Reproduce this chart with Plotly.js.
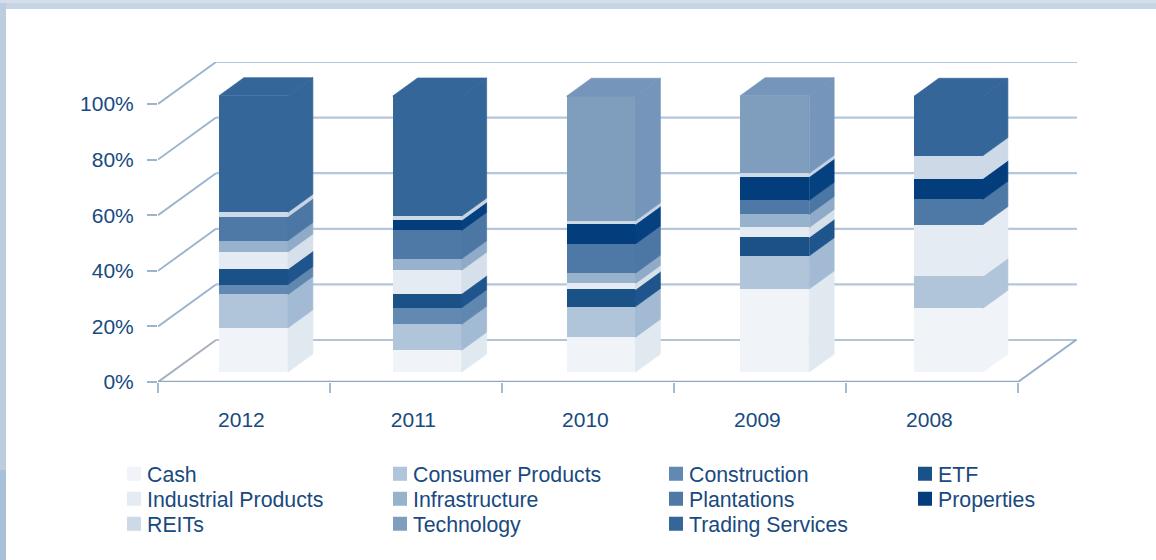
<!DOCTYPE html>
<html>
<head>
<meta charset="utf-8">
<script src="https://cdn.plot.ly/plotly-3.0.1.min.js"></script>
<style>html,body{margin:0;padding:0;background:#fff}#chart{width:1156px;height:560px}</style>
</head>
<body>
<div id="chart"></div>
<script>
// ---- data (percent of portfolio) ----
const years = ['2012', '2011', '2010', '2009', '2008'];
const percentTicks = [0, 20, 40, 60, 80, 100];
const percentLabels = ['0%', '20%', '40%', '60%', '80%', '100%'];
const sectors = ['Cash', 'Consumer Products', 'Construction', 'ETF', 'Industrial Products', 'Infrastructure',
                 'Plantations', 'Properties', 'REITs', 'Technology', 'Trading Services'];
const cash       = [16.0, 7.9, 12.6, 30.1, 23.1];
const consumer   = [12.1, 9.4, 11.1, 12.0, 11.6];
const construct  = [3.6, 6.0, 0, 0, 0];
const etf        = [5.6, 5.1, 6.2, 6.7, 0];
const industrial = [6.2, 8.5, 2.2, 3.6, 18.7];
const infra      = [4.1, 4.1, 3.7, 4.7, 0];
const plantation = [8.7, 10.3, 10.6, 5.1, 9.2];
const properties = [0, 3.7, 7.1, 8.5, 7.5];
const reits      = [1.6, 1.5, 1.3, 1.3, 8.3];
const technology = [0, 0, 45.1, 28.1, 0];
const trading    = [42.2, 43.5, 0, 0, 21.5];
const seriesValues = [cash, consumer, construct, etf, industrial, infra, plantation, properties, reits, technology, trading];

// ---- styles ----
const frontColors = ['#f0f4f8', '#b0c4da', '#6289b1', '#1a5288', '#e4ebf3', '#97b2cc', '#4e78a5', '#033d7c', '#cdd9e6', '#7f9ebe', '#356699'];
const sideColors  = ['#e0e8f0', '#a2bad4', '#5f87b0', '#1e558c', '#d6e0ea', '#8fabc9', '#4c77a5', '#05407f', '#c6d3e2', '#7596ba', '#356699'];
const textBlue = '#184a80';
const legendCols = [147, 413, 689, 938];
const legendRows = [474, 499, 524];
const legendSlots = [[0,0],[1,0],[2,0],[3,0],[0,1],[1,1],[2,1],[3,1],[0,2],[1,2],[2,2]];

// ---- oblique projection: a pseudo-3D box drawn on ordinary linear axes ----
const W = 1156, H = 560, L = 158, R = 1077, T = 62, B = 382;
const pxPerCat = 172, pxPerPct = 2.78;
const depthX = 58 / pxPerCat, depthY = 42 / pxPerPct;
const xMax = (R - L) / pxPerCat, yMax = (B - T) / pxPerPct;
const nCat = years.length;
const catCentre = k => 0.475 + 1.0102 * k;
const barW = 69 / pxPerCat, d0 = 10 / 42, d1 = 28 / 42, barScale = 276 / 278;
const px = (x, d) => x + d * depthX;
const py = (v, d) => v + d * depthY;

const traces = [];
const lineTrace = (xs, ys, color, width) => ({
  type: 'scatter', mode: 'lines', x: xs, y: ys, xaxis: 'x', yaxis: 'y', cliponaxis: false,
  line: { color, width }, showlegend: false, hoverinfo: 'skip'
});

// back wall gridlines and left wall diagonals
percentTicks.forEach(v => {
  const floor = v === 0;
  traces.push(lineTrace([px(0, 1), px(xMax - depthX, 1)], [py(v, 1), py(v, 1)], floor ? '#b3c4d8' : '#b4c7dc', 2.2));
  traces.push(lineTrace([px(0, 0), px(0, 1)], [py(v, 0), py(v, 1)], floor ? '#a4afbb' : '#9ab4d0', 1.9));
});
// floor front edge and right diagonal
traces.push(lineTrace([0, nCat], [0, 0], '#8ea8c6', 2.4));
traces.push(lineTrace([px(nCat, 0), px(nCat, 1)], [0, depthY], '#94aeca', 2));

// bars: front faces are real bars, side and top faces are polygons in the same data space
const baseline = d0 * depthY;
const cum = years.map(() => 0);
const sideTraces = [], barTraces = [];
seriesValues.forEach((vals, s) => {
  const bases = [], xs = [];
  const sx = [], sy = [], lx = [], ly = [], tx = [], ty = [];
  vals.forEach((v, k) => {
    const c = catCentre(k), r = c + barW / 2, l = c - barW / 2;
    const v0 = cum[k] * barScale, v1 = (cum[k] + v) * barScale;
    xs.push(px(c, d0));
    bases.push(v0 + baseline);
    if (v > 0) {
      const tx_ = k === nCat - 1 ? lx : sx, ty_ = k === nCat - 1 ? ly : sy;
      tx_.push(px(r, d0), px(r, d1), px(r, d1), px(r, d0), px(r, d0), null);
      ty_.push(py(v0, d0), py(v0, d1), py(v1, d1), py(v1, d0), py(v0, d0), null);
      // top face only on the uppermost segment of the column
      if (seriesValues.slice(s + 1).every(a => a[k] === 0)) {
        tx.push(px(l, d0), px(l, d1), px(r, d1), px(r, d0), px(l, d0), null);
        ty.push(py(v1, d0), py(v1, d1), py(v1, d1), py(v1, d0), py(v1, d0), null);
      }
    }
    cum[k] += v;
  });
  const poly = (x, y, color) => ({
    type: 'scatter', mode: 'lines', line: { color, width: 0.7 }, fill: 'toself', fillcolor: color, x, y, xaxis: 'x2', yaxis: 'y2',
    showlegend: false, hoverinfo: 'skip', cliponaxis: false
  });
  sideTraces.push(poly(sx, sy, sideColors[s]));
  if (lx.length) sideTraces.push(poly(lx, ly, frontColors[s]));
  if (tx.length) sideTraces.push(poly(tx, ty, sideColors[s]));
  barTraces.push({
    type: 'bar', name: sectors[s], x: xs, y: vals.map(v => v * barScale), base: bases, width: barW,
    xaxis: 'x2', yaxis: 'y2', marker: { color: frontColors[s], line: { width: 0 } },
    legend: s === 0 ? 'legend' : 'legend' + (s + 1), hoverinfo: 'name+y'
  });
});
traces.push(...barTraces, ...sideTraces);

const paperX = p => (p - L) / (R - L);
const paperY = p => (B - p) / (B - T);
const band = (x0, x1, y0, y1, fillcolor) => ({
  type: 'rect', xref: 'paper', yref: 'paper', layer: 'below', line: { width: 0 }, fillcolor,
  x0: paperX(x0), x1: paperX(x1), y0: paperY(y1), y1: paperY(y0)
});

const layout = {
  width: W, height: H, paper_bgcolor: '#ffffff', plot_bgcolor: 'rgba(0,0,0,0)',
  margin: { l: L, r: W - R, t: T, b: H - B, pad: 0 },
  barmode: 'overlay', bargap: 0,
  font: { family: 'Liberation Sans, Arial, sans-serif', color: textBlue },
  xaxis: {
    range: [0, xMax], showgrid: false, zeroline: false, showline: false, fixedrange: true,
    tickmode: 'array', tickvals: years.map((y, k) => k + 0.485), ticktext: years, tickangle: 0,
    ticks: '', ticklabelstandoff: 23, tickfont: { size: 21, color: textBlue },
    minor: { tickmode: 'array', tickvals: [0, 1, 2, 3, 4, 5], ticks: 'outside', ticklen: 10, tickwidth: 1.5, tickcolor: '#a5bad0', showgrid: false }
  },
  yaxis: {
    range: [0, yMax], showgrid: false, zeroline: false, showline: false, fixedrange: true,
    tickmode: 'array', tickvals: percentTicks, ticktext: percentLabels,
    ticks: 'outside', ticklen: 10, tickwidth: 1.8, tickcolor: '#9ab4d0',
    ticklabelstandoff: 9, tickfont: { size: 21, color: textBlue }
  },
  xaxis2: { range: [0, xMax], overlaying: 'x', visible: false, fixedrange: true },
  yaxis2: { range: [0, yMax], overlaying: 'y', visible: false, fixedrange: true },
  showlegend: true,
  shapes: [
    band(0, W, 0, 3, '#d3deea'),
    band(0, W, 3, 9, '#c6d4e3'),
    band(0, 6, 3, 470, '#bccddf'),
    band(0, 6, 470, H, '#a9c0d9')
  ]
};
sectors.forEach((name, s) => {
  const [c, r] = legendSlots[s];
  layout[s === 0 ? 'legend' : 'legend' + (s + 1)] = {
    xanchor: 'left', yanchor: 'middle',
    x: paperX(legendCols[c] - 40), y: paperY(legendRows[r]),
    bgcolor: 'rgba(0,0,0,0)', borderwidth: 0, font: { size: 21.3, color: textBlue }
  };
});

Plotly.newPlot('chart', traces, layout, { displayModeBar: false, staticPlot: true }).then(() => {
  // the reference's legend swatches sit closer to their labels and are slightly larger
  document.querySelectorAll('#chart .legendsymbols').forEach(g => g.setAttribute('transform', 'translate(7,0)'));
  document.querySelectorAll('#chart .legendpoints path').forEach(p => p.setAttribute('d', 'M7,7H-7V-7H7Z'));
});
</script>
</body>
</html>
